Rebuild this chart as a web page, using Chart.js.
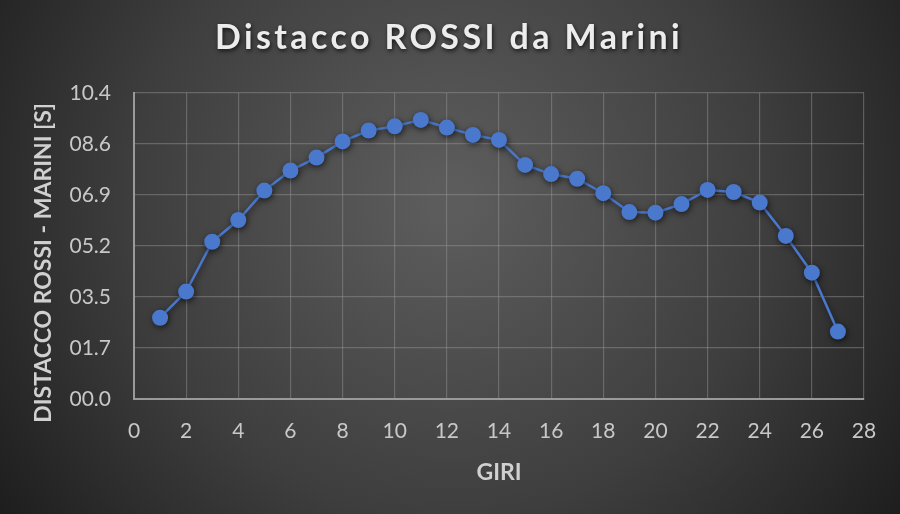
<!DOCTYPE html>
<html>
<head>
<meta charset="utf-8">
<script src="https://cdn.jsdelivr.net/npm/chart.js@4/dist/chart.umd.min.js"></script>
<style>
  html, body { margin: 0; padding: 0; background: #2b2b2b; }
  #wrap { width: 900px; height: 514px; }
</style>
</head>
<body>
<div id="wrap"><canvas id="chartDisplay"></canvas></div>
<script>
// laps and gap in seconds
const giri = [1, 2, 3, 4, 5, 6, 7, 8, 9, 10, 11, 12, 13, 14, 15, 16, 17, 18, 19, 20, 21, 22, 23, 24, 25, 26, 27];
const distacco = [2.76, 3.65, 5.34, 6.08, 7.08, 7.76, 8.20, 8.75, 9.12, 9.26, 9.48, 9.22, 8.97, 8.80,
                  7.95, 7.64, 7.48, 6.99, 6.35, 6.33, 6.62, 7.10, 7.03, 6.67, 5.54, 4.29, 2.29];
// y ticks as printed in the original
const yTickValues = [0, 1.7333, 3.4667, 5.2, 6.9333, 8.6667, 10.4];
const yTickLabels = ['00.0', '01.7', '03.5', '05.2', '06.9', '08.6', '10.4'];

const textColor = '#c8c8c8';

// dark radial background
const background = {
  id: 'background',
  beforeDraw(chart) {
    const ctx = chart.ctx;
    const g = ctx.createRadialGradient(450, 200, 20, 450, 200, 560);
    g.addColorStop(0, '#5c5c5c');
    g.addColorStop(0.55, '#3e3e3e');
    g.addColorStop(1, '#1c1c1c');
    ctx.save();
    ctx.fillStyle = g;
    ctx.fillRect(0, 0, chart.width, chart.height);
    ctx.restore();
  }
};

// spaced-out title with a small shadow, centred on the whole picture
const titleSpacing = {
  id: 'titleSpacing',
  afterInit(chart) {
    const block = chart.titleBlock;
    if (!block) return;
    const orig = block.draw.bind(block);
    block.draw = function (area) {
      const ctx = chart.ctx;
      ctx.save();
      ctx.translate(17, 0);
      ctx.letterSpacing = '3.4px';
      ctx.shadowColor = 'rgba(0,0,0,0.7)';
      ctx.shadowBlur = 4;
      ctx.shadowOffsetX = 1;
      ctx.shadowOffsetY = 2;
      orig(area);
      ctx.restore();
    };
  }
};

// the y title sits a little lower than the plot centre in the original
const yTitleShift = {
  id: 'yTitleShift',
  afterUpdate(chart) {
    const y = chart.scales.y;
    if (!y || y._shifted) return;
    const orig = y.drawTitle.bind(y);
    y.drawTitle = function () {
      const ctx = chart.ctx;
      ctx.save();
      ctx.translate(0, 17);
      orig();
      ctx.restore();
    };
    y._shifted = true;
  }
};

// soft shadow under the line and points
const pointShadow = {
  id: 'pointShadow',
  beforeDatasetsDraw(chart) {
    const ctx = chart.ctx;
    ctx.save();
    ctx.shadowColor = 'rgba(0,0,0,0.6)';
    ctx.shadowBlur = 6;
    ctx.shadowOffsetX = 1;
    ctx.shadowOffsetY = 2;
  },
  afterDatasetsDraw(chart) {
    chart.ctx.restore();
  }
};

const points = giri.map((g, i) => ({ x: g, y: distacco[i] }));

new Chart(document.getElementById('chartDisplay'), {
  type: 'scatter',
  data: {
    datasets: [{
      label: 'Distacco',
      data: points,
      showLine: true,
      borderColor: '#4a78cc',
      borderWidth: 2.5,
      backgroundColor: '#4a78cc',
      pointRadius: 8,
      pointHoverRadius: 8,
      pointBorderWidth: 0
    }]
  },
  options: {
    responsive: true,
    maintainAspectRatio: false,
    animation: false,
    layout: { padding: { left: 0, right: 36, top: 0, bottom: 0 } },
    plugins: {
      legend: { display: false },
      tooltip: { enabled: false },
      title: {
        display: true,
        text: 'Distacco ROSSI da Marini',
        color: '#ececec',
        font: { family: 'Lato', size: 34, weight: 'bold', lineHeight: 1.2 },
        padding: { top: 18, bottom: 34 }
      }
    },
    scales: {
      x: {
        type: 'linear',
        min: 0,
        max: 28,
        afterFit(scale) { scale.height = 115; },
        ticks: {
          stepSize: 2,
          color: textColor,
          padding: 20,
          font: { family: 'Lato', size: 21 }
        },
        grid: { color: 'rgba(150,150,150,0.45)', lineWidth: 1.2, drawTicks: false },
        border: { display: true, color: '#9a9a9a', width: 2 },
        title: {
          display: true,
          text: 'GIRI',
          color: '#d0d0d0',
          font: { family: 'Lato', size: 23, weight: 'bold', lineHeight: 1.2 },
          padding: { bottom: 28 }
        }
      },
      y: {
        type: 'linear',
        min: 0,
        max: 10.4,
        afterFit(scale) { scale.width = 134; },
        afterBuildTicks(scale) {
          scale.ticks = yTickValues.map(v => ({ value: v }));
        },
        ticks: {
          color: textColor,
          padding: 23,
          font: { family: 'Lato', size: 21 },
          callback: (value, index) => yTickLabels[index]
        },
        grid: { color: 'rgba(150,150,150,0.45)', lineWidth: 1.2, drawTicks: false },
        border: { display: true, color: '#9a9a9a', width: 2 },
        title: {
          display: true,
          text: 'DISTACCO ROSSI - MARINI [S]',
          color: '#d0d0d0',
          font: { family: 'Lato', size: 23, weight: 'bold', lineHeight: 1.2 },
          padding: { top: 30 }
        }
      }
    }
  },
  plugins: [background, titleSpacing, yTitleShift, pointShadow]
});
</script>
</body>
</html>
